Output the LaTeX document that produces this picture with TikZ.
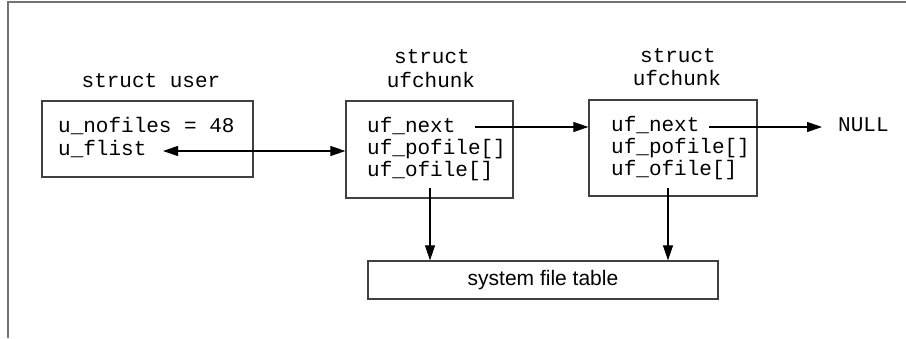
\documentclass[tikz,border=0pt]{standalone}
\usepackage{fontspec}
\setmonofont{Liberation Mono}
\setsansfont{Liberation Sans}
\usetikzlibrary{arrows.meta,calc}
\begin{document}
\begin{tikzpicture}[x=1pt,y=-1pt,
  every node/.style={font=\ttfamily\fontsize{21}{22}\selectfont, inner sep=0pt},
  frameline/.style={draw=black!55, line width=2pt},
  structbox/.style={draw=black!75, line width=1.3pt},
  field/.style={anchor=base west},
  title/.style={anchor=base},
  tip/.style={Triangle[length=15pt,width=10pt]},
  conn/.style={line width=1.1pt, -{Triangle[length=15pt,width=10pt]}},
  dconn/.style={line width=1.1pt, {Triangle[length=15pt,width=10pt]}-{Triangle[length=15pt,width=10pt]}},
]
\useasboundingbox (0,0) rectangle (906,338);
\draw[frameline] (7.5,338) -- (7.5,2) -- (906,2);

% boxes
\node[structbox, minimum width=211pt, minimum height=76pt] (user) at (147.5,139) {};
\node[structbox, minimum width=167pt, minimum height=97pt] (chunkA) at (429.5,149.5) {};
\node[structbox, minimum width=168pt, minimum height=96pt] (chunkB) at (673,148) {};
\node[structbox, minimum width=350pt, minimum height=38pt, font=\sffamily\fontsize{21}{22}\selectfont] (sft) at (543,280) {system file table};

% titles
\node[title] (tuser) at (151,87) {struct user};
\node[title] (tA1) at (432,63) {struct};
\node[title] (tA2) at (431,87) {ufchunk};
\node[title] (tB1) at (678,62) {struct};
\node[title] (tB2) at (677,85) {ufchunk};

% fields
\node[field] (unofiles) at (58,132) {u\_nofiles = 48};
\node[field] (uflist) at (58,155) {u\_flist};
\node[field] (nextA) at (367,132) {uf\_next};
\node[field] (pofileA) at (367,154) {uf\_pofile[]};
\node[field] (ofileA) at (367,176) {uf\_ofile[]};
\node[field] (nextB) at (611,131) {uf\_next};
\node[field] (pofileB) at (611,153) {uf\_pofile[]};
\node[field] (ofileB) at (611,175) {uf\_ofile[]};
\node[field] (null) at (838,131) {NULL};

% connectors
\draw[dconn] ($(uflist.base west)+(105,-4)$) -- ($(uflist.base west -| chunkA.west)+(0,-4)$);
\draw[conn] ($(nextA.base west)+(108,-5)$) -- ($(nextA.base west -| chunkB.west)+(0,-5)$);
\draw[conn] ($(nextB.base west)+(98,-4)$) -- ($(null.base west)+(-16,-4)$);
\coordinate (dA) at ($(ofileA.base west)+(63,12)$);
\coordinate (dB) at ($(ofileB.base west)+(57,13)$);
\draw[conn] (dA) -- (dA |- sft.north);
\draw[conn] (dB) -- (dB |- sft.north);
\end{tikzpicture}
\end{document}
